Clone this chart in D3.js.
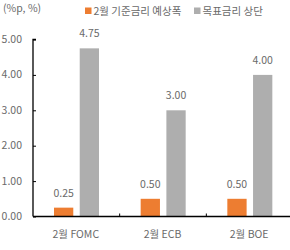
<!DOCTYPE html>
<html>
<head>
<meta charset="utf-8">
<script src="https://cdn.jsdelivr.net/npm/d3@7"></script>
<style>
  body { margin: 0; background: #fff; }
  text { font-family: "Noto Sans CJK KR", "Noto Sans", sans-serif; }
</style>
</head>
<body>
<script>
var categories = ["2월 FOMC", "2월 ECB", "2월 BOE"];
var seriesNames = ["2월 기준금리 예상폭", "목표금리 상단"];
var expected = [0.25, 0.50, 0.50];
var upper = [4.75, 3.00, 4.00];
var yTicks = [0, 1, 2, 3, 4, 5];

var width = 290, height = 250;
var colors = ["#ED7D31", "#AEAEAE"];
var textColor = "#6a6a6a";

var svg = d3.select("body").append("svg")
    .attr("width", width)
    .attr("height", height);

var x0 = d3.scaleBand().domain(categories).range([33, 293]);
var x1 = d3.scaleBand().domain([0, 1]).range([21, 66]).paddingInner(0.25);
var y = d3.scaleLinear().domain([0, 5]).range([216.5, 39.5]);

// unit label
svg.append("text")
    .attr("x", 3).attr("y", 12)
    .style("font-size", "10.5px")
    .style("fill", textColor)
    .text("(%p, %)");

// legend
var legend = svg.append("g");
var legendX = [85, 194];
seriesNames.forEach(function(name, i) {
  legend.append("rect")
      .attr("x", legendX[i]).attr("y", 7.5)
      .attr("width", 6.5).attr("height", 6.5)
      .attr("fill", colors[i]);
  legend.append("text")
      .attr("x", legendX[i] + 8.5).attr("y", 14.5)
      .style("font-size", "10.5px")
      .style("fill", textColor)
      .text(name);
});

// bars
var data = categories.map(function(c, i) {
  return { cat: c, values: [expected[i], upper[i]] };
});

var groups = svg.selectAll(".grp")
    .data(data)
    .enter().append("g")
    .attr("transform", function(d) { return "translate(" + x0(d.cat) + ",0)"; });

groups.selectAll("rect")
    .data(function(d) { return d.values; })
    .enter().append("rect")
    .attr("x", function(d, i) { return x1(i); })
    .attr("y", function(d) { return y(d); })
    .attr("width", x1.bandwidth())
    .attr("height", function(d) { return y(0) - y(d); })
    .attr("fill", function(d, i) { return colors[i]; });

groups.selectAll(".lbl")
    .data(function(d) { return d.values; })
    .enter().append("text")
    .attr("x", function(d, i) { return x1(i) + x1.bandwidth() / 2; })
    .attr("y", function(d) { return y(d) - 11; })
    .attr("text-anchor", "middle")
    .style("font-size", "10.5px")
    .style("fill", textColor)
    .text(function(d) { return d.toFixed(2); });

// y axis
var yAxis = svg.append("g")
    .attr("transform", "translate(33,0)")
    .call(d3.axisRight(y).tickValues(yTicks).tickSize(3).tickFormat(""));
yAxis.select(".domain").attr("d", "M3," + y(5) + "H0V" + y(0));
yAxis.selectAll("line").attr("stroke", "#000");
yAxis.select(".domain").attr("stroke", "#000").attr("stroke-width", 1.3);

svg.selectAll(".ylbl")
    .data(yTicks)
    .enter().append("text")
    .attr("x", 22)
    .attr("y", function(d) { return y(d) + 3.5; })
    .attr("text-anchor", "end")
    .style("font-size", "10.5px")
    .style("fill", textColor)
    .text(function(d) { return d.toFixed(2); });

// x axis
svg.append("line")
    .attr("x1", 33).attr("x2", 290)
    .attr("y1", y(0)).attr("y2", y(0))
    .attr("stroke", "#000").attr("stroke-width", 1.3);

svg.selectAll(".xtick")
    .data(categories.slice(1))
    .enter().append("line")
    .attr("x1", function(d) { return x0(d); })
    .attr("x2", function(d) { return x0(d); })
    .attr("y1", y(0)).attr("y2", y(0) - 3)
    .attr("stroke", "#000");

svg.selectAll(".xlbl")
    .data(categories)
    .enter().append("text")
    .attr("x", function(d) { return x0(d) + x0.bandwidth() / 2 - 0.5; })
    .attr("y", 237.5)
    .attr("text-anchor", "middle")
    .style("font-size", "10.5px")
    .style("fill", textColor)
    .text(function(d) { return d; });
</script>
</body>
</html>
